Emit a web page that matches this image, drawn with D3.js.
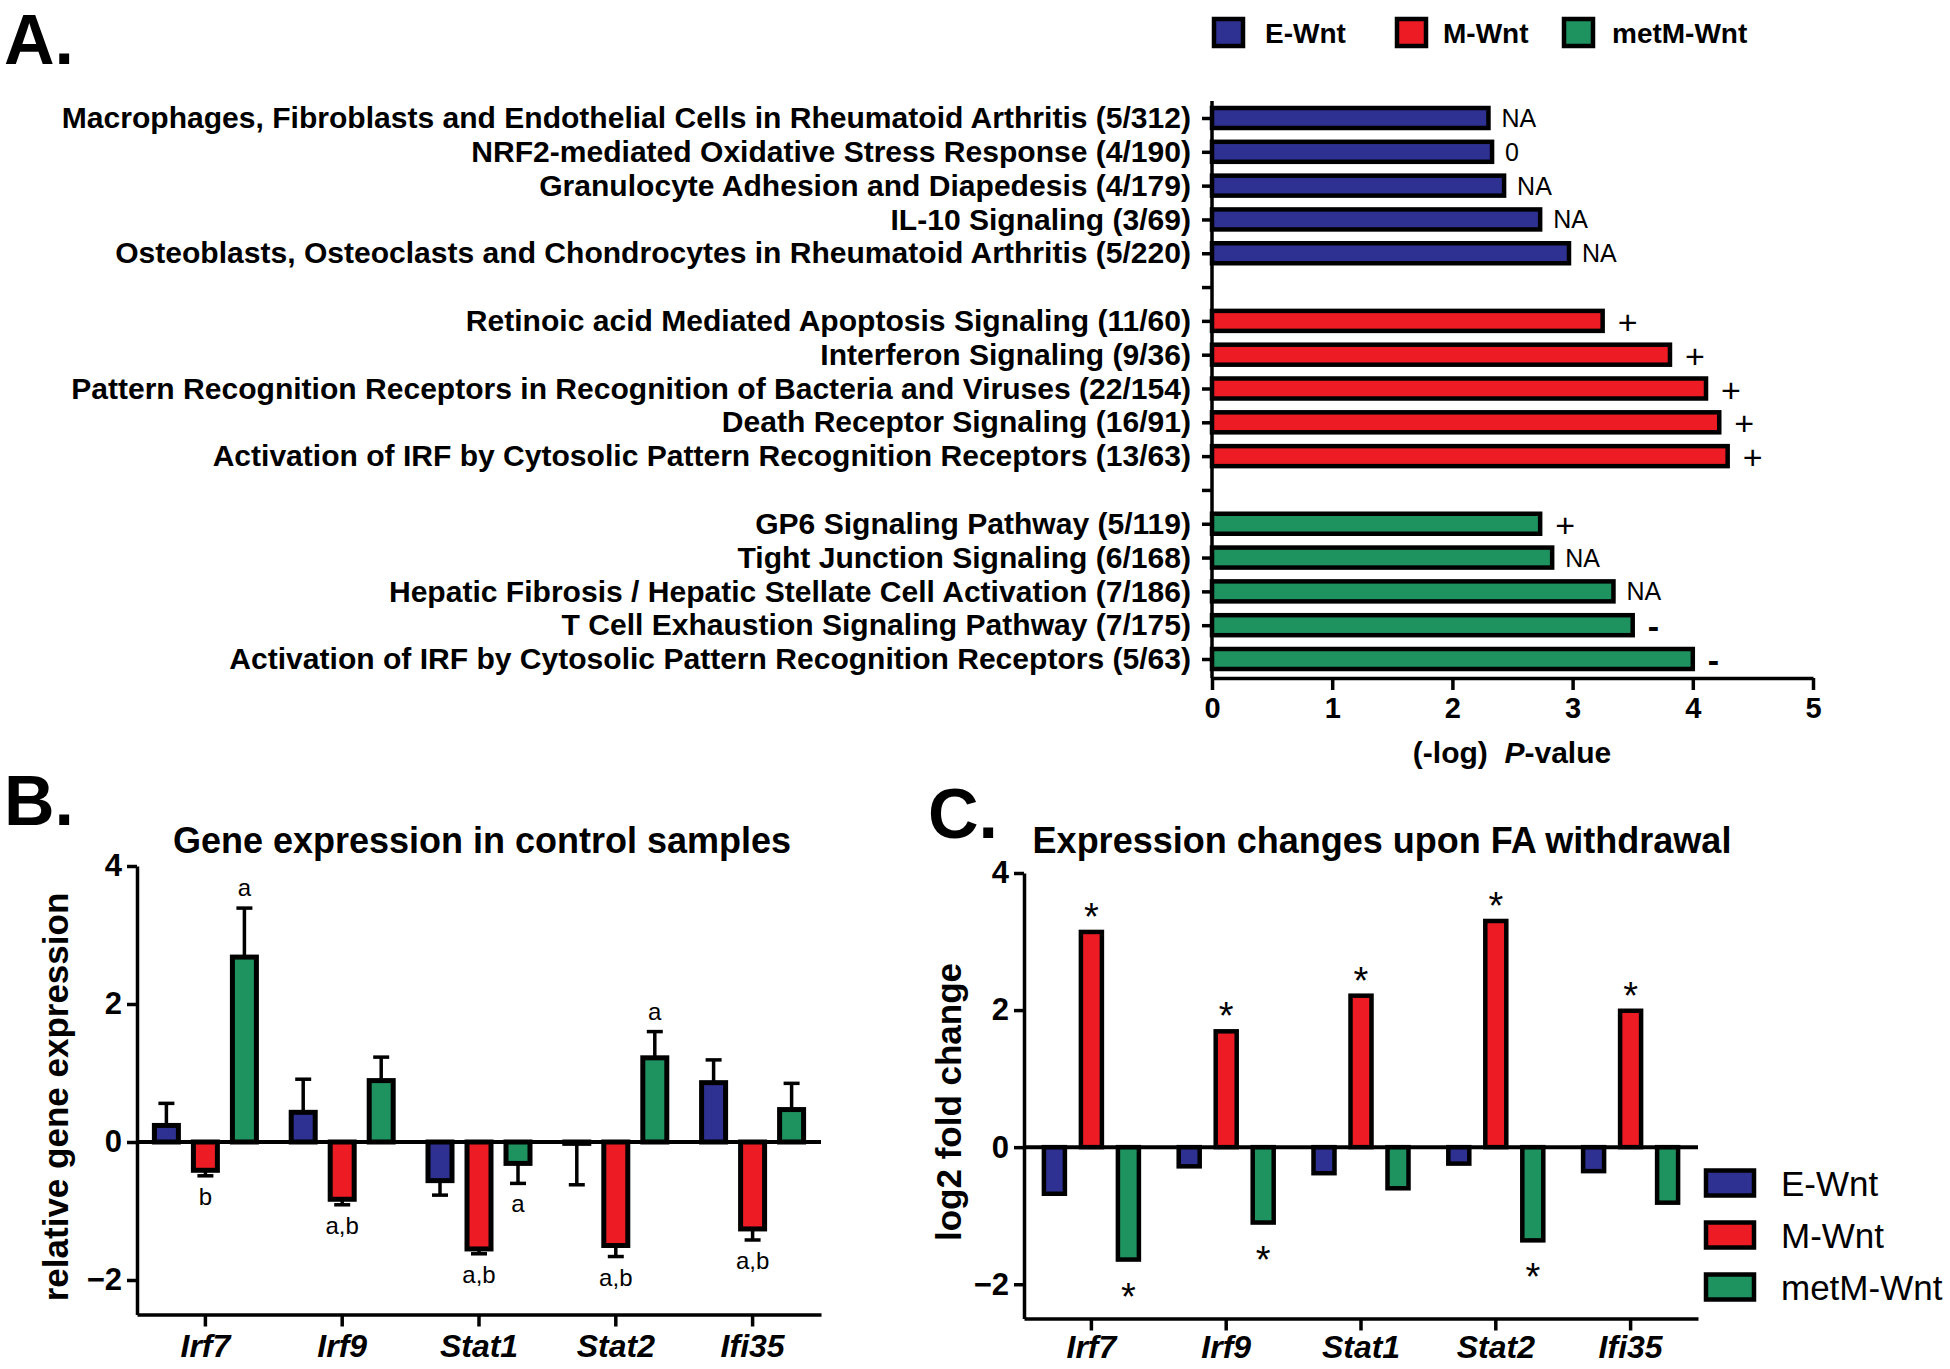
<!DOCTYPE html>
<html><head><meta charset="utf-8">
<script src="https://cdn.jsdelivr.net/npm/d3@7"></script>
<style>
body{margin:0;background:#fff}
text{font-family:"Liberation Sans",Arial,Helvetica,sans-serif;fill:#000}
</style>
</head><body>
<svg id="c" width="1950" height="1369" xmlns="http://www.w3.org/2000/svg"></svg>
<script>
// ---------------- DATA ----------------
const seriesNames = ["E-Wnt", "M-Wnt", "metM-Wnt"];
const seriesColors = ["#2E3192", "#ED1C24", "#1E9360"];

// Panel A: pathway enrichment, (-log) P-value
const pathwaysE = [
  "Macrophages, Fibroblasts and Endothelial Cells in Rheumatoid Arthritis (5/312)",
  "NRF2-mediated Oxidative Stress Response (4/190)",
  "Granulocyte Adhesion and Diapedesis (4/179)",
  "IL-10 Signaling (3/69)",
  "Osteoblasts, Osteoclasts and Chondrocytes in Rheumatoid Arthritis (5/220)"
];
const valuesE = [2.30, 2.33, 2.43, 2.73, 2.97];
const notesE = ["NA", "0", "NA", "NA", "NA"];

const pathwaysM = [
  "Retinoic acid Mediated Apoptosis Signaling (11/60)",
  "Interferon Signaling (9/36)",
  "Pattern Recognition Receptors in Recognition of Bacteria and Viruses (22/154)",
  "Death Receptor Signaling (16/91)",
  "Activation of IRF by Cytosolic Pattern Recognition Receptors (13/63)"
];
const valuesM = [3.25, 3.81, 4.11, 4.22, 4.29];
const notesM = ["+", "+", "+", "+", "+"];

const pathwaysMet = [
  "GP6 Signaling Pathway (5/119)",
  "Tight Junction Signaling (6/168)",
  "Hepatic Fibrosis / Hepatic Stellate Cell Activation (7/186)",
  "T Cell Exhaustion Signaling Pathway (7/175)",
  "Activation of IRF by Cytosolic Pattern Recognition Receptors (5/63)"
];
const valuesMet = [2.73, 2.83, 3.34, 3.50, 4.00];
const notesMet = ["+", "NA", "NA", "-", "-"];

const xTicksA = [0, 1, 2, 3, 4, 5];

// Panel B: gene expression in control samples
const genes = ["Irf7", "Irf9", "Stat1", "Stat2", "Ifi35"];
const ctrlE      = [0.24, 0.43, -0.56, -0.02, 0.86];
const ctrlEerr   = [0.32, 0.48, 0.21, 0.60, 0.33];
const ctrlM      = [-0.41, -0.83, -1.55, -1.50, -1.26];
const ctrlMerr   = [0.08, 0.08, 0.07, 0.16, 0.16];
const ctrlMet    = [2.68, 0.89, -0.31, 1.22, 0.47];
const ctrlMetErr = [0.71, 0.34, 0.29, 0.38, 0.38];
const lettersE   = ["", "", "", "", ""];
const lettersM   = ["b", "a,b", "a,b", "a,b", "a,b"];
const lettersMet = ["a", "", "a", "a", ""];

// Panel C: log2 fold change upon FA withdrawal
const fcE   = [-0.68, -0.28, -0.38, -0.24, -0.35];
const fcM   = [3.14, 1.69, 2.21, 3.30, 1.99];
const fcMet = [-1.64, -1.10, -0.60, -1.36, -0.81];
const starsE   = [false, false, false, false, false];
const starsM   = [true, true, true, true, true];
const starsMet = [true, true, false, true, false];

const yTicksBC = [-2, 0, 2, 4];

// ---------------- DRAW ----------------
const svg = d3.select("#c");
svg.append("rect").attr("width", 1950).attr("height", 1369).attr("fill", "#fff");

function styleAxis(g, fs, italic) {
  g.selectAll("path.domain").attr("stroke", "#000").attr("stroke-width", 3.5);
  g.selectAll(".tick line").attr("stroke", "#000").attr("stroke-width", 3.5);
  g.selectAll(".tick text").attr("font-size", fs).attr("font-weight", "bold")
    .attr("font-family", '"Liberation Sans",Arial,sans-serif')
    .attr("font-style", italic ? "italic" : "normal").attr("fill", "#000");
}

// panel letters
[["A.", 4, 64], ["B.", 4, 825], ["C.", 928, 838]].forEach(([t, x, y]) =>
  svg.append("text").attr("x", x).attr("y", y).attr("font-size", 70)
    .attr("font-weight", "bold").text(t));

// ===== Panel A =====
const groupsA = [
  { labels: pathwaysE, values: valuesE, notes: notesE, color: seriesColors[0] },
  { labels: pathwaysM, values: valuesM, notes: notesM, color: seriesColors[1] },
  { labels: pathwaysMet, values: valuesMet, notes: notesMet, color: seriesColors[2] }
];
const rowsA = [];
groupsA.forEach((g, gi) => g.labels.forEach((l, i) =>
  rowsA.push({ slot: gi * 6 + i, label: l, value: g.values[i], note: g.notes[i], color: g.color })));
const slotsA = d3.range(17);
const labelBySlot = new Map(rowsA.map(r => [r.slot, r.label]));

const xA = d3.scaleLinear().domain([0, 5]).range([1212, 1813]);
const yA = d3.scalePoint().domain(slotsA).range([118, 659]);
const barHA = 20;
const gA = svg.append("g");

gA.selectAll("rect.barA").data(rowsA).join("rect").attr("class", "barA")
  .attr("x", xA(0)).attr("y", d => yA(d.slot) - barHA / 2)
  .attr("width", d => xA(d.value) - xA(0)).attr("height", barHA)
  .attr("fill", d => d.color).attr("stroke", "#000").attr("stroke-width", 4.5);

gA.selectAll("text.noteA").data(rowsA).join("text").attr("class", "noteA")
  .attr("x", d => xA(d.value) + (d.note === "+" || d.note === "-" ? 15 : 13))
  .attr("y", d => yA(d.slot) + (d.note === "+" || d.note === "-" ? 1 : 0))
  .attr("dominant-baseline", "central")
  .attr("font-size", d => (d.note === "+" || d.note === "-") ? 34 : 25)
  .attr("font-weight", d => d.note === "-" ? "bold" : "normal")
  .text(d => d.note);

const yAxisA = gA.append("g").attr("transform", `translate(${xA(0)},0)`)
  .call(d3.axisLeft(yA).tickValues(slotsA).tickFormat(s => labelBySlot.get(s) || "")
    .tickSize(10).tickPadding(11).tickSizeOuter(0));
yAxisA.select("path.domain").remove();
styleAxis(yAxisA, 26, false);
// fit label size to the reference's width of the longest label
{
  const t0 = yAxisA.selectAll(".tick text").filter(s => s === 0).node();
  const w = t0.getComputedTextLength();
  const fs = 26 * 1130 / w;
  yAxisA.selectAll(".tick text").attr("font-size", fs);
}
gA.append("line").attr("x1", xA(0)).attr("x2", xA(0)).attr("y1", 101).attr("y2", 678)
  .attr("stroke", "#000").attr("stroke-width", 3.5);

const xAxisA = gA.append("g").attr("transform", "translate(0,678)")
  .call(d3.axisBottom(xA).tickValues(xTicksA).tickFormat(d3.format("d"))
    .tickSize(12).tickPadding(7).tickSizeOuter(0));
styleAxis(xAxisA, 29, false);

const titleA = gA.append("text").attr("x", 1512).attr("y", 763).attr("text-anchor", "middle")
  .attr("font-size", 30).attr("font-weight", "bold").style("white-space", "pre");
titleA.append("tspan").text("(-log)  ");
titleA.append("tspan").attr("font-style", "italic").text("P");
titleA.append("tspan").text("-value");

// legend A
const legA = [
  { name: seriesNames[0], color: seriesColors[0], x: 1214, tx: 1265 },
  { name: seriesNames[1], color: seriesColors[1], x: 1397, tx: 1443 },
  { name: seriesNames[2], color: seriesColors[2], x: 1564, tx: 1612 }
];
legA.forEach(l => {
  svg.append("rect").attr("x", l.x).attr("y", 19).attr("width", 29).attr("height", 27)
    .attr("fill", l.color).attr("stroke", "#000").attr("stroke-width", 4.5);
  svg.append("text").attr("x", l.tx).attr("y", 33).attr("dominant-baseline", "central")
    .attr("font-size", 28).attr("font-weight", "bold").text(l.name);
});

// ===== Panels B and C (grouped bars) =====
function groupedPanel(opts) {
  const g = svg.append("g");
  const x = d3.scaleBand().domain(genes).range(opts.xRange);
  const sub = d3.scalePoint().domain(seriesNames).range([-opts.step, opts.step]);
  const y = d3.scaleLinear().domain([-2.5, 4]).range(opts.yRange);
  const data = [];
  genes.forEach((gn, i) => seriesNames.forEach((s, si) => data.push({
    gene: gn, series: s, color: seriesColors[si],
    value: opts.values[si][i],
    err: opts.errs ? opts.errs[si][i] : 0,
    letter: opts.letters ? opts.letters[si][i] : "",
    star: opts.stars ? opts.stars[si][i] : false
  })));
  const cx = d => x(d.gene) + x.bandwidth() / 2 + sub(d.series);

  // error bars
  if (opts.errs) {
    const eb = g.selectAll("g.err").data(data.filter(d => d.err > 0)).join("g");
    const end = d => y(d.value >= 0 ? d.value + d.err : d.value - d.err);
    eb.append("line").attr("x1", cx).attr("x2", cx).attr("y1", d => y(d.value)).attr("y2", end)
      .attr("stroke", "#000").attr("stroke-width", 3.5);
    eb.append("line").attr("x1", d => cx(d) - 8).attr("x2", d => cx(d) + 8).attr("y1", end).attr("y2", end)
      .attr("stroke", "#000").attr("stroke-width", 3.5);
  }
  g.selectAll("rect.bar").data(data).join("rect").attr("class", "bar")
    .attr("x", d => cx(d) - opts.barW / 2).attr("width", opts.barW)
    .attr("y", d => Math.min(y(d.value), y(0)))
    .attr("height", d => Math.max(0.5, Math.abs(y(d.value) - y(0))))
    .attr("fill", d => d.color).attr("stroke", "#000").attr("stroke-width", opts.barStroke);

  // zero line
  g.append("line").attr("x1", opts.xRange[0]).attr("x2", opts.xRange[1])
    .attr("y1", y(0)).attr("y2", y(0)).attr("stroke", "#000").attr("stroke-width", 4);

  // letters
  if (opts.letters) {
    g.selectAll("text.let").data(data.filter(d => d.letter)).join("text").attr("class", "let")
      .attr("x", cx).attr("text-anchor", "middle").attr("font-size", 24)
      .attr("y", d => d.value >= 0 ? y(d.value + d.err) - 12 : y(d.value - d.err) + 29)
      .text(d => d.letter);
  }
  if (opts.stars) {
    g.selectAll("text.star").data(data.filter(d => d.star)).join("text").attr("class", "star")
      .attr("x", cx).attr("text-anchor", "middle").attr("font-size", 38)
      .attr("y", d => d.value >= 0 ? y(d.value) - 2 : y(d.value) + 50)
      .text("*");
  }

  // axes
  const ya = g.append("g").attr("transform", `translate(${opts.xRange[0]},0)`)
    .call(d3.axisLeft(y).tickValues(yTicksBC).tickFormat(d3.format("d")).tickSize(10).tickPadding(5).tickSizeOuter(0));
  styleAxis(ya, 31, false);
  const xa = g.append("g").attr("transform", `translate(0,${y(-2.5)})`)
    .call(d3.axisBottom(x).tickSize(12).tickPadding(opts.labPad).tickSizeOuter(0));
  styleAxis(xa, 32, true);

  // titles
  g.append("text").attr("x", opts.titleX).attr("y", 853).attr("text-anchor", "middle")
    .attr("font-size", 36).attr("font-weight", "bold").text(opts.title);
  g.append("text").attr("transform", `translate(${opts.ylabX},${opts.ylabY}) rotate(-90)`)
    .attr("text-anchor", "middle").attr("dominant-baseline", "central")
    .attr("font-size", 35).attr("font-weight", "bold").text(opts.ylab);
  return g;
}

groupedPanel({
  xRange: [137, 821], yRange: [1314.5, 866], step: 39, barW: 24, barStroke: 5, labPad: 8,
  values: [ctrlE, ctrlM, ctrlMet], errs: [ctrlEerr, ctrlMerr, ctrlMetErr],
  letters: [lettersE, lettersM, lettersMet],
  title: "Gene expression in control samples", titleX: 482,
  ylab: "relative gene expression", ylabX: 55, ylabY: 1097
});

groupedPanel({
  xRange: [1024, 1698], yRange: [1318.5, 873], step: 37, barW: 21, barStroke: 4.5, labPad: 5,
  values: [fcE, fcM, fcMet], stars: [starsE, starsM, starsMet],
  title: "Expression changes upon FA withdrawal", titleX: 1382,
  ylab: "log2 fold change", ylabX: 948, ylabY: 1102
});

// legend C
const legCy = [1183, 1235, 1287];
seriesNames.forEach((s, i) => {
  svg.append("rect").attr("x", 1706).attr("y", legCy[i] - 12.5).attr("width", 48).attr("height", 25)
    .attr("fill", seriesColors[i]).attr("stroke", "#000").attr("stroke-width", 4.5);
  svg.append("text").attr("x", 1781).attr("y", legCy[i]).attr("dominant-baseline", "central")
    .attr("font-size", 35).text(s);
});
</script>
</body></html>
